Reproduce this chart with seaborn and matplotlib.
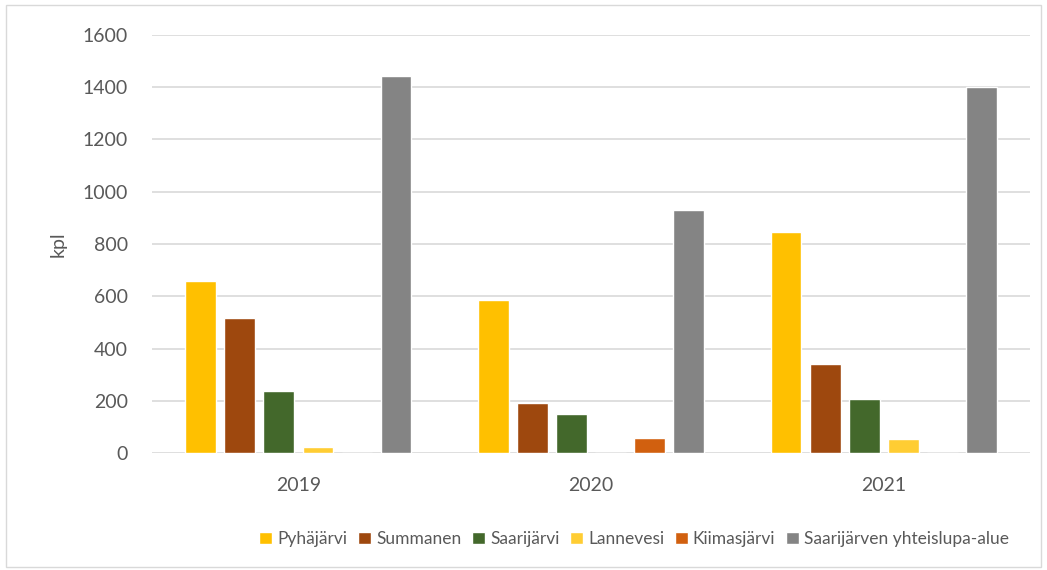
import pandas as pd
import matplotlib.pyplot as plt
import seaborn as sns
from matplotlib.patches import Rectangle

# Data
years = ['2019', '2020', '2021']
series = ['Pyhäjärvi', 'Summanen', 'Saarijärvi', 'Lannevesi', 'Kiimasjärvi',
          'Saarijärven yhteislupa-alue']
pyhajarvi = [657, 584, 847]
summanen = [515, 192, 340]
saarijarvi = [237, 149, 206]
lannevesi = [24, 0, 54]
kiimasjarvi = [0, 59, 0]
yhteislupa = [1442, 929, 1399]
colors = ['#FFC000', '#9E480E', '#43682B', '#FFCD33', '#D1600F', '#848484']

values = [pyhajarvi, summanen, saarijarvi, lannevesi, kiimasjarvi, yhteislupa]
rows = []
for name, vals in zip(series, values):
    for y, v in zip(years, vals):
        rows.append({'vuosi': y, 'alue': name, 'kpl': v})
df = pd.DataFrame(rows)

sns.set_style('white')
plt.rcParams['font.family'] = ['Lato', 'DejaVu Sans']
text_color = '#595959'
fs = 14

fig = plt.figure(figsize=(10.47, 5.70), dpi=100)
ax = fig.add_axes([0.145, 0.205, 0.839, 0.734])

sns.barplot(data=df, x='vuosi', y='kpl', hue='alue', hue_order=series,
            palette=colors, width=0.8, gap=0.22, saturation=1, ax=ax,
            legend=True)

ax.set_ylim(0, 1600)
ax.set_yticks(range(0, 1601, 200))
ax.yaxis.grid(True, color='#D9D9D9', linewidth=1.2)
ax.set_axisbelow(True)
for s in ax.spines.values():
    s.set_visible(False)
ax.tick_params(axis='both', length=0, colors=text_color, labelsize=fs)
ax.tick_params(axis='y', pad=17)
ax.tick_params(axis='x', pad=17)
ax.set_xlabel('')
ax.set_ylabel('kpl', color=text_color, fontsize=fs, labelpad=12)

handles, labels = ax.get_legend_handles_labels()
ax.legend(handles, labels, loc='center', bbox_to_anchor=(0.549, -0.205),
          ncol=6, frameon=False, fontsize=12.5, labelcolor=text_color,
          handlelength=0.75, handleheight=0.75, handletextpad=0.3,
          columnspacing=0.6)

# chart border
fig.patches.append(Rectangle((0.006, 0.006), 0.988, 0.986,
                             transform=fig.transFigure, fill=False,
                             edgecolor='#D9D9D9', linewidth=1))

fig.savefig('out.png', dpi=100)
